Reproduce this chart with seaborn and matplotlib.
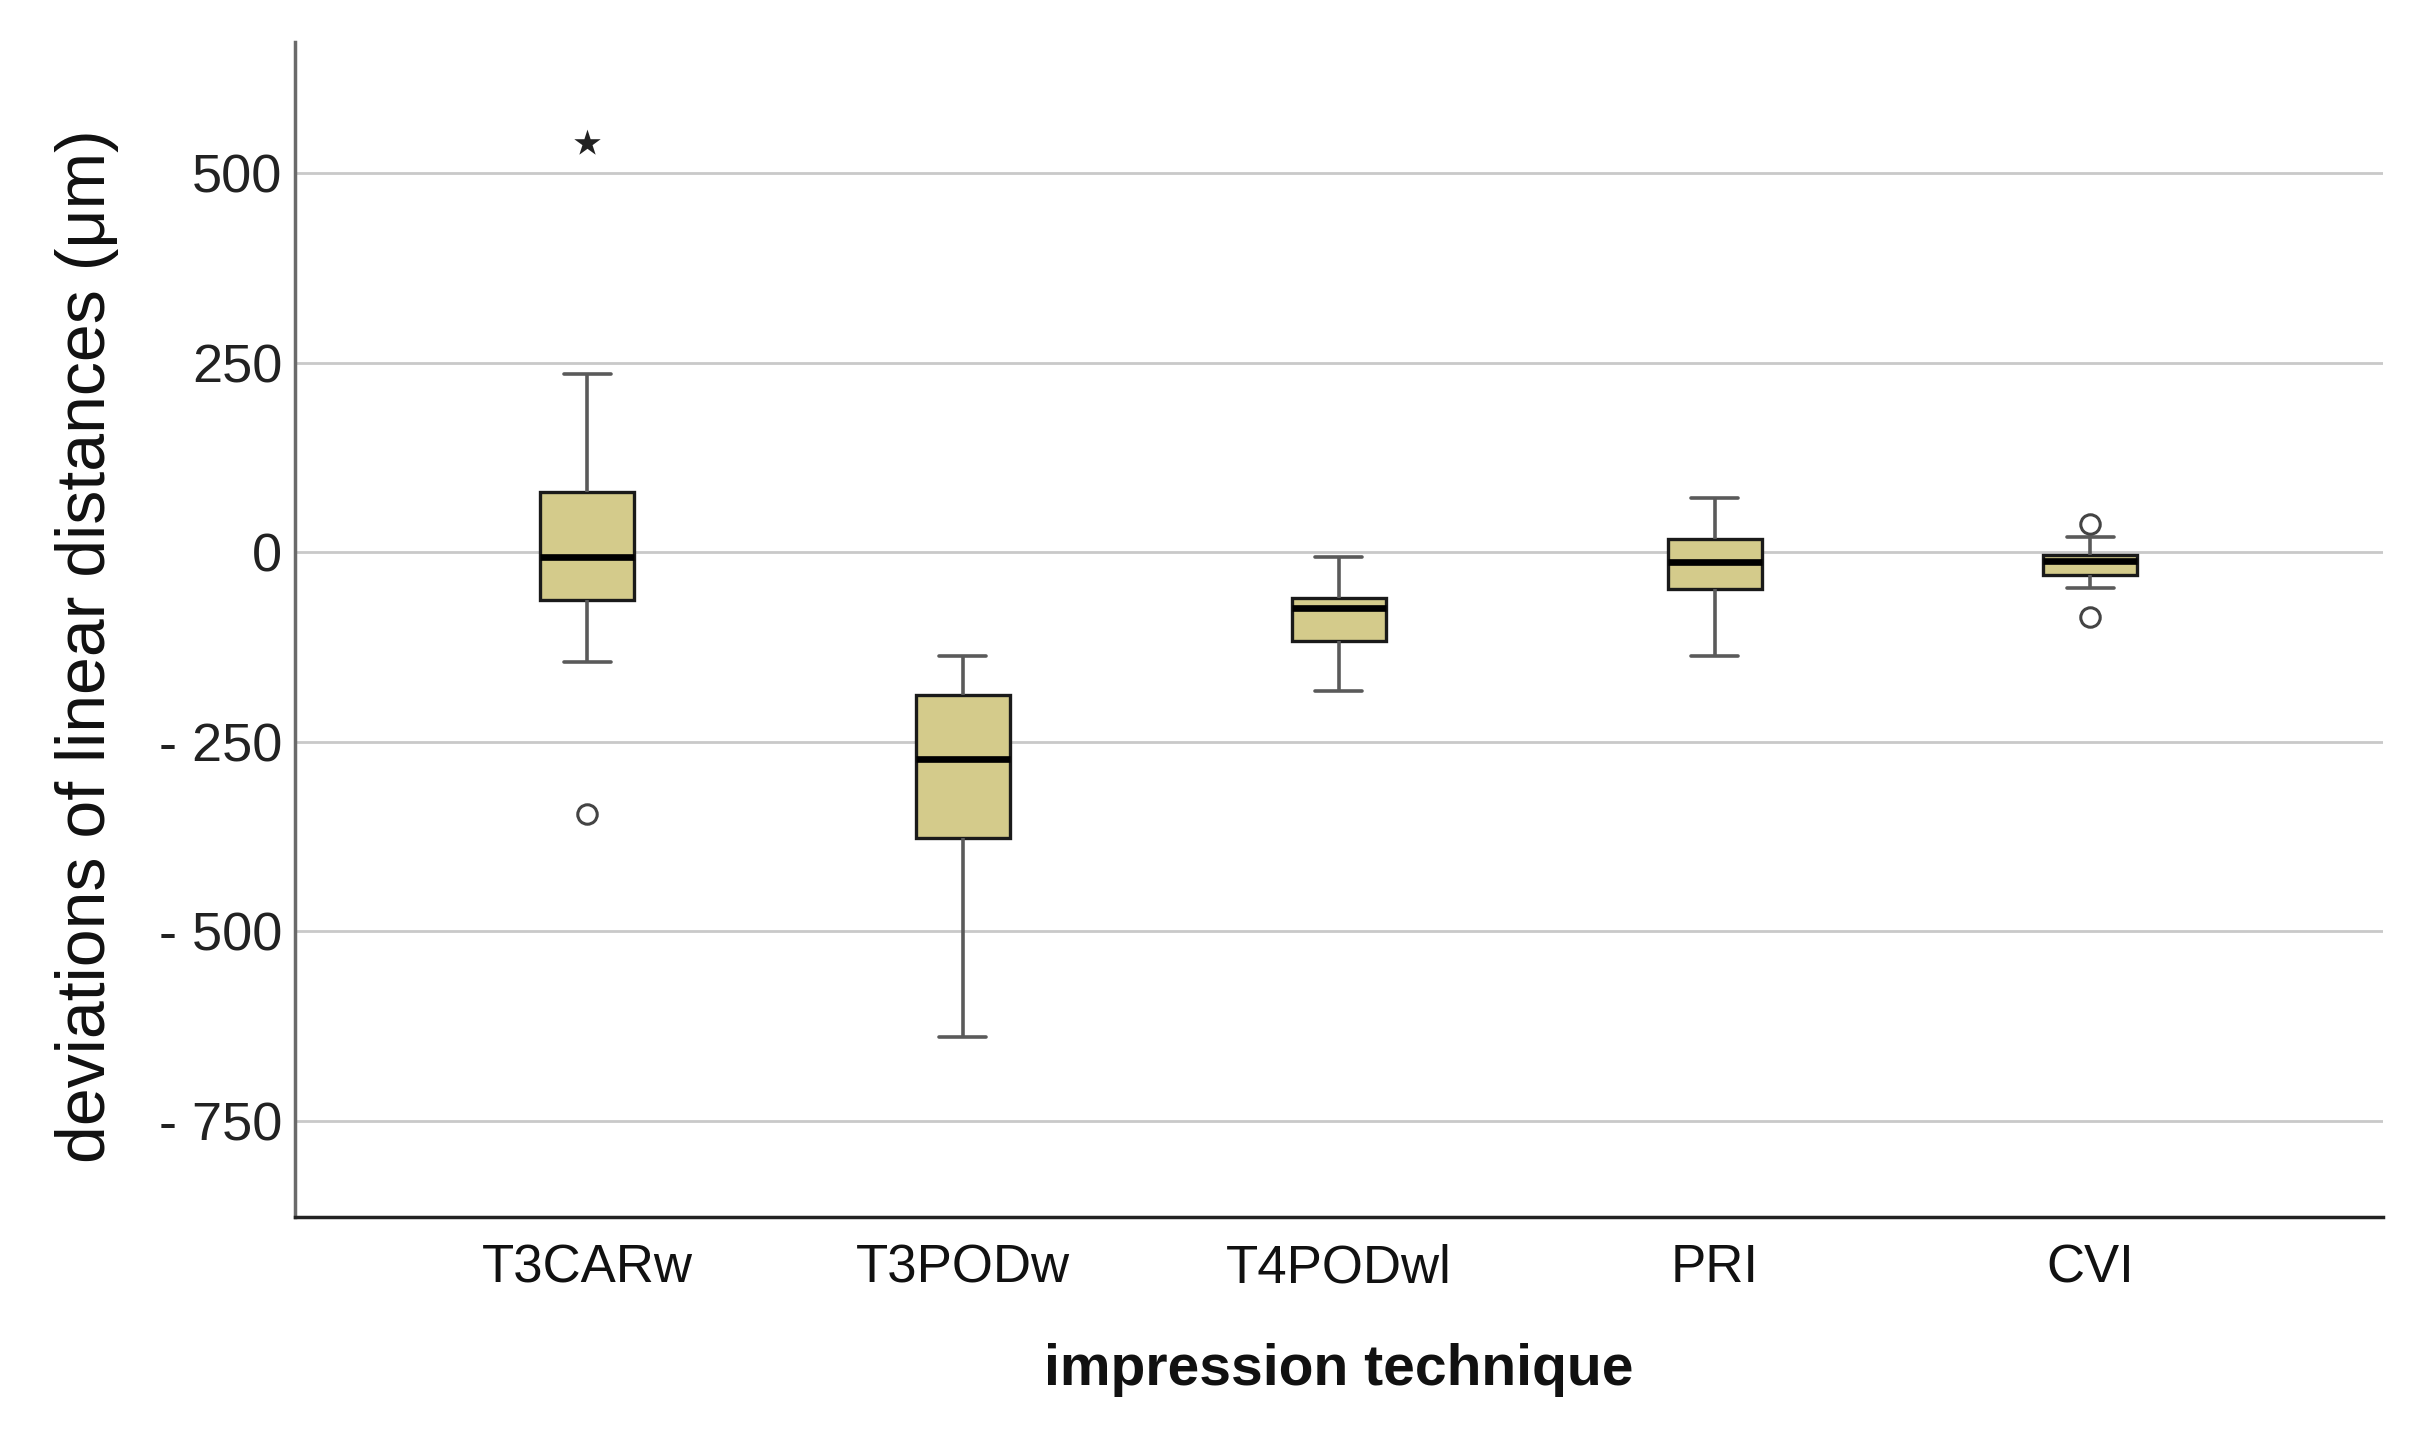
import matplotlib
matplotlib.use("Agg")
import matplotlib.pyplot as plt
import seaborn as sns
import pandas as pd

# ---- data ----
categories = ["T3CARw", "T3PODw", "T4PODwl", "PRI", "CVI"]
whisker_low = [-145, -640, -183, -137, -47]
q1 = [-63, -377, -117, -49, -30]
median = [-7, -273, -73, -13, -11]
q3 = [79, -188, -61, 18, -4]
whisker_high = [235, -137, -7, 72, 20]

outlier_cat = ["T3CARw", "CVI", "CVI"]
outlier_val = [-346, 37, -86]
extreme_cat = ["T3CARw"]
extreme_val = [540]

ytick_values = [500, 250, 0, -250, -500, -750]
ytick_labels = ["500", "250", "0", "- 250", "- 500", "- 750"]

x_title = "impression technique"
y_title = "deviations of linear distances (\u03bcm)"

# ---- build table ----
rows = []
for i, c in enumerate(categories):
    for v in (whisker_low[i], q1[i], median[i], q3[i], whisker_high[i]):
        rows.append({"technique": c, "value": v})
df = pd.DataFrame(rows)

sns.set_theme(style="white")
plt.rcParams["font.family"] = ["Liberation Sans", "DejaVu Sans"]

fig = plt.figure(figsize=(24.35, 14.32), dpi=100)
ax = fig.add_axes([0.121, 0.1501, 0.8576, 0.8206])

ax.set_axisbelow(True)
for v in ytick_values:
    ax.axhline(v, color="#c9c9c9", lw=2.0, zorder=0)

sns.boxplot(
    data=df, x="technique", y="value", order=categories, ax=ax,
    color="#D4CB8B", saturation=1, width=0.25, whis=(0, 100),
    showfliers=False, linecolor="#1a1a1a", linewidth=2.4,
    medianprops=dict(color="black", linewidth=4.8),
    whiskerprops=dict(color="#5a5a5a", linewidth=2.6),
    capprops=dict(color="#5a5a5a", linewidth=2.6),
)

sns.stripplot(
    x=outlier_cat, y=outlier_val, order=categories, ax=ax, jitter=False,
    marker="o", size=14, color="white", edgecolor="#444444", linewidth=2.2,
    zorder=5,
)
sns.stripplot(
    x=extreme_cat, y=extreme_val, order=categories, ax=ax, jitter=False,
    marker="*", size=20, color="#222222", linewidth=0, zorder=5,
)

ax.set_xlim(-0.778, 4.778)
ax.set_ylim(-877, 673)
ax.set_yticks(ytick_values)
ax.set_yticklabels(ytick_labels)

ax.tick_params(axis="both", length=0)
ax.tick_params(axis="y", labelsize=39, pad=9, colors="#222222")
ax.tick_params(axis="x", labelsize=38, pad=19, colors="#111111")

ax.set_xlabel(x_title, fontsize=41, fontweight="bold", labelpad=36, color="#111111")
ax.set_ylabel(y_title, fontsize=49, color="#111111")
ax.yaxis.set_label_coords(-0.084, 0.486)

for s in ("top", "right"):
    ax.spines[s].set_visible(False)
ax.spines["left"].set_color("#6a6a6a")
ax.spines["left"].set_linewidth(2.5)
ax.spines["bottom"].set_color("#222222")
ax.spines["bottom"].set_linewidth(2.5)

fig.savefig("out.png", dpi=100, facecolor="white")
